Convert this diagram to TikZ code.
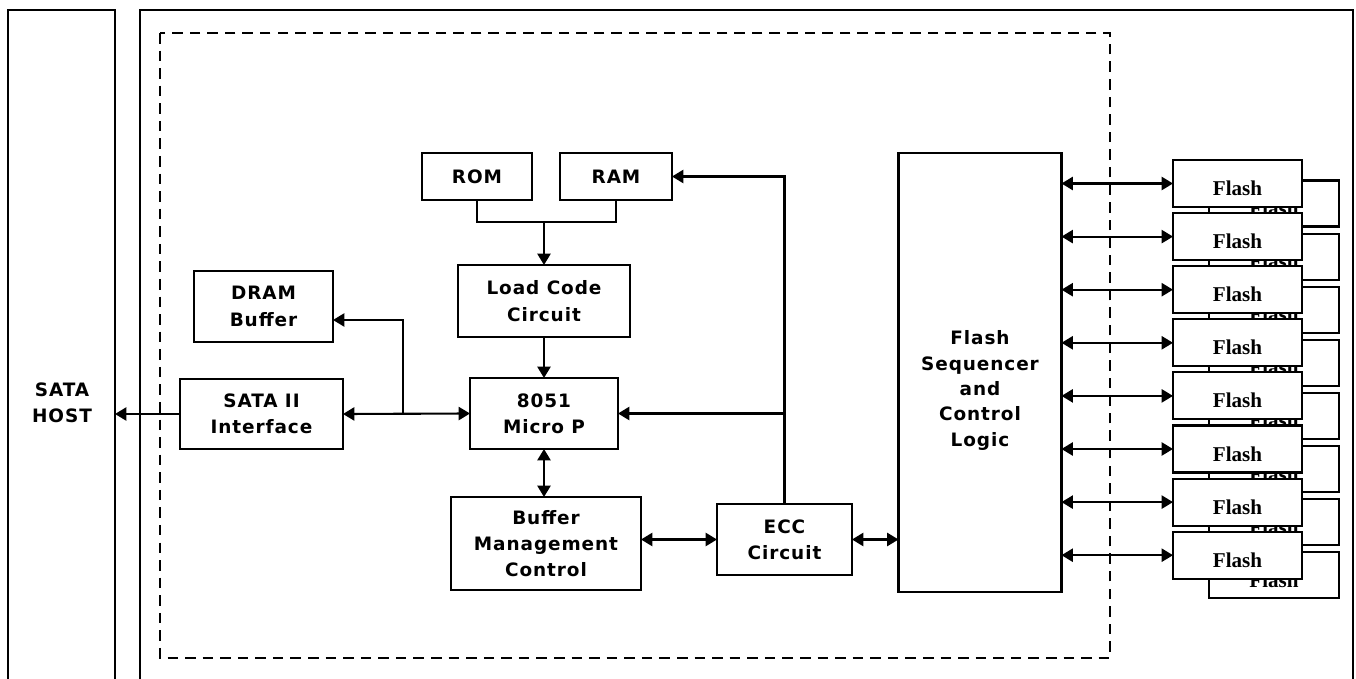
\documentclass[tikz,border=0pt]{standalone}
\usepackage{fontspec}
\usepackage{tikz}
\usetikzlibrary{arrows.meta, positioning, calc}
\newfontfamily\blockfont[LetterSpace=5]{DejaVu Sans}
\newfontfamily\flashfont{Liberation Serif}

\tikzset{
    block/.style={rectangle, draw, fill=white, line width=1.2pt, inner sep=0pt, outer sep=0pt, align=center,
        font=\blockfont\bfseries\fontsize{10.5}{15}\selectfont},
    flashbox/.style={rectangle, draw, fill=white, line width=1.2pt, inner sep=0pt, outer sep=0pt,
        minimum width=2.58cm, minimum height=0.94cm, text height=0.5cm, text depth=0.02cm,
        font=\flashfont\bfseries\fontsize{12}{14}\selectfont},
    wire/.style={line width=1.2pt}
}

\begin{document}
\begin{tikzpicture}[x=0.02cm, y=-0.02cm, >={Triangle[length=6.5pt,width=7.5pt]}]
    \useasboundingbox (0,0) rectangle (1356,679);

    % Host and controller frames (open at the bottom)
    \draw[wire] (8,690) -- (8,10) -- (115,10) -- (115,690);
    \draw[wire] (140,690) -- (140,10) -- (1353,10) -- (1353,690);
    \draw[line width=1.2pt, dash pattern=on 6pt off 4pt] (160,33) rectangle (1110,658);

    \node (host) [font=\blockfont\bfseries\fontsize{10.5}{15}\selectfont, align=center] at (62,403) {SATA\\HOST};
    \coordinate (hostport) at (115,414);

    % Controller blocks
    \node (rom) [block, minimum width=2.2cm, minimum height=0.94cm] at (477,176.5) {ROM};
    \node (ram) [block, minimum width=2.24cm, minimum height=0.94cm] at (616,176.5) {RAM};
    \node (load) [block, minimum width=3.44cm, minimum height=1.44cm] at (544,301) {Load Code\\Circuit};
    \node (micro) [block, minimum width=2.96cm, minimum height=1.42cm] at (544,413.5) {8051\\Micro P};
    \node (dram) [block, minimum width=2.78cm, minimum height=1.42cm] at (263.5,306.5) {DRAM\\Buffer};
    \node (sata) [block, minimum width=3.26cm, minimum height=1.4cm] at (261.5,414) {SATA II\\Interface};
    \node (bmc) [block, minimum width=3.8cm, minimum height=1.86cm] at (546,543.5) {Buffer\\Management\\Control};
    \node (ecc) [block, minimum width=2.7cm, minimum height=1.42cm] at (784.5,539.5) {ECC\\Circuit};
    \node (seq) [block, minimum width=3.26cm, minimum height=8.78cm] at (980,372.5) {};
    \node (seqlabel) [font=\blockfont\bfseries\fontsize{10.5}{14.5}\selectfont, align=center] at ([yshift=-0.36cm]seq.center) {Flash\\Sequencer\\and\\Control\\Logic};

    % Flash chips, stacked two deep
    \foreach \i in {0,...,7} {
        \node (back\i) [flashbox, minimum width=2.6cm, minimum height=0.92cm] at (1274,{203.5+53.1*\i}) {Flash};
    }
    \foreach \i in {0,...,7} {
        \node (flash\i) [flashbox] at (1237.5,{183.5+53.1*\i}) {Flash};
        \draw[wire, <->] (seq.east |- flash\i.west) -- (flash\i.west);
    }

    % Connections
    \coordinate (mem) at (544,222);
    \draw[wire] (rom.south) |- (mem) -| (ram.south);
    \draw[wire, ->] (mem) -- (load.north);
    \draw[wire, ->] (load.south) -- (micro.north);
    \draw[wire, <->] (micro.south) -- (bmc.north -| micro.south);
    \draw[wire, ->] (sata.west) -- (hostport);
    \draw[wire, <->] (sata.east) -- (micro.west);
    \coordinate (split) at (403,414);
    \draw[wire, ->] (split) |- ($(dram.north east)!0.69!(dram.south east)$);
    \draw[wire, <->] (bmc.east |- ecc.west) -- (ecc.west);
    \draw[wire, <->] (ecc.east) -- (ecc.east -| seq.west);
    \draw[wire, ->] (ecc.north) |- (ram.east);
    \draw[wire, ->] (ecc.north |- micro.east) -- (micro.east);
\end{tikzpicture}
\end{document}
